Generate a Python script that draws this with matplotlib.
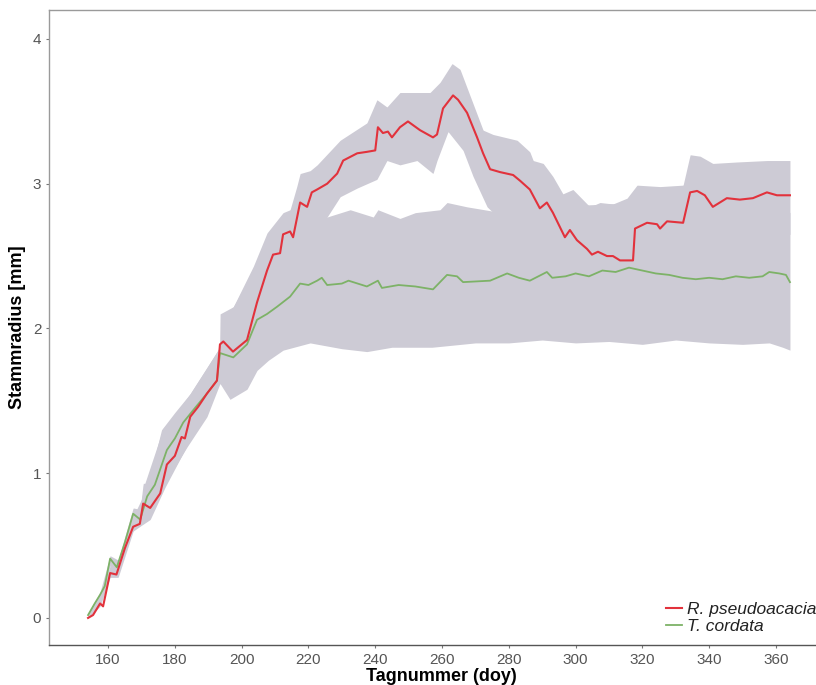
import matplotlib
matplotlib.use("Agg")
import matplotlib.pyplot as plt
import numpy as np

plt.rcParams['font.family'] = ['Liberation Sans', 'DejaVu Sans']

# Mean stem radius change, Robinia pseudoacacia
red_day = [154, 155.5, 157.6, 158.5, 160.6, 162.5, 165, 167.5, 169.5, 170.5, 172.6, 175.6,
           177.6, 180, 182, 183, 184.6, 187, 189.6, 192.6, 193.5, 194.5, 197.4, 201.6,
           204.6, 207.6, 209.4, 211.5, 212.4, 214.5, 215.4, 217.5, 219.6, 221, 222.6, 224.1,
           225.6, 228.6, 230.4, 234.6, 237.5, 240, 240.8, 242.3, 243.8, 245, 247.4, 249.8,
           253.4, 257.3, 258.5, 260.3, 263.3, 264.8, 267.5, 270.5, 272.3, 274.4, 277.4,
           281.3, 283.4, 286.3, 289.3, 291.4, 293.2, 296.8, 298.3, 300.4, 303.4, 304.9,
           306.7, 309.4, 311.2, 313.3, 317.2, 317.8, 321.4, 324.4, 325.3, 327.4, 332.2,
           334.3, 336.4, 338.7, 341.1, 343.2, 345.3, 349.2, 353.1, 357.3, 360.3, 364.2]
red_val = [0.00, 0.02, 0.10, 0.08, 0.31, 0.30, 0.48, 0.63, 0.65, 0.79, 0.76, 0.86,
           1.06, 1.12, 1.25, 1.24, 1.39, 1.46, 1.55, 1.64, 1.89, 1.91, 1.84, 1.92,
           2.18, 2.40, 2.51, 2.52, 2.65, 2.67, 2.63, 2.87, 2.84, 2.94, 2.96, 2.98,
           3.00, 3.07, 3.16, 3.21, 3.22, 3.23, 3.39, 3.35, 3.36, 3.32, 3.39, 3.43,
           3.37, 3.32, 3.34, 3.52, 3.61, 3.58, 3.49, 3.32, 3.21, 3.10, 3.08,
           3.06, 3.02, 2.96, 2.83, 2.87, 2.80, 2.63, 2.68, 2.61, 2.55, 2.51,
           2.53, 2.50, 2.50, 2.47, 2.47, 2.69, 2.73, 2.72, 2.69, 2.74, 2.73,
           2.94, 2.95, 2.92, 2.84, 2.87, 2.90, 2.89, 2.90, 2.94, 2.92, 2.92]

# Mean stem radius change, Tilia cordata
green_day = [154, 156, 157.6, 159, 160.6, 162.6, 165, 167.5, 169.6, 171.7, 174, 177.6,
             180, 182.5, 186, 189.6, 192.6, 193.5, 197.5, 201.6, 204.6, 207.6, 210.6,
             214.5, 217.5, 220, 222.6, 224, 225.6, 230, 232, 237.5, 240.8, 242, 247,
             252, 257.3, 261.5, 264.5, 266.3, 274.4, 279.5, 283, 286.3, 291.4, 293,
             297, 300, 304, 308, 312, 316, 320, 324, 328, 332, 336, 340, 344, 348,
             352, 356, 358, 361, 363, 364.2]
green_val = [0.02, 0.10, 0.16, 0.22, 0.41, 0.35, 0.52, 0.72, 0.68, 0.84, 0.92, 1.16,
             1.24, 1.35, 1.45, 1.55, 1.64, 1.83, 1.80, 1.89, 2.06, 2.10, 2.15,
             2.22, 2.31, 2.30, 2.33, 2.35, 2.30, 2.31, 2.33, 2.29, 2.33, 2.28, 2.30,
             2.29, 2.27, 2.37, 2.36, 2.32, 2.33, 2.38, 2.35, 2.33, 2.39, 2.35,
             2.36, 2.38, 2.36, 2.40, 2.39, 2.42, 2.40, 2.38, 2.37, 2.35, 2.34, 2.35, 2.34, 2.36,
             2.35, 2.36, 2.39, 2.38, 2.37, 2.32]

# Spread band, Robinia pseudoacacia
red_hi_day = [154, 157.6, 160.6, 163, 167.5, 170, 171, 176.5, 180.6, 184.6, 189.6, 193.4, 193.5,
              197.5, 203.5, 207.6, 212.4, 214.5, 216.5, 217.5, 220.5, 222.6, 229.5, 237.5,
              240.5, 243.5, 247.4, 256.4, 259.4, 263, 265.4, 272.3, 275.3, 282.5, 286.3,
              287.3, 290.3, 293.2, 296.2, 299.2, 304.3, 307.3, 311.2, 315.4, 318.4, 325.3,
              332.2, 334.3, 337.3, 341.1, 348.3, 357.3, 364.2]
red_hi = [0.03, 0.14, 0.36, 0.36, 0.70, 0.82, 0.93, 1.31, 1.42, 1.55, 1.73, 1.87, 2.10,
          2.15, 2.43, 2.66, 2.80, 2.82, 2.98, 3.07, 3.09, 3.13, 3.30, 3.42,
          3.58, 3.53, 3.63, 3.63, 3.70, 3.83, 3.79, 3.37, 3.34, 3.30, 3.22,
          3.16, 3.14, 3.05, 2.93, 2.96, 2.84, 2.87, 2.86, 2.90, 2.99, 2.98,
          2.99, 3.20, 3.19, 3.14, 3.15, 3.16, 3.16]
red_lo_day = [154, 157.6, 160.6, 163, 167.5, 170, 172.6, 177, 185, 193.5, 200, 210, 217,
              222, 225.6, 229.5, 234.6, 240.5, 243.5, 247.4, 252.5, 257.3, 258.5, 261.8,
              266.3, 269.3, 273.5, 275.3, 280, 286, 295, 305, 317, 318, 333, 334, 364.2]
red_lo = [0.00, 0.08, 0.28, 0.28, 0.60, 0.64, 0.68, 0.90, 1.25, 1.65, 1.80, 2.20, 2.50,
          2.65, 2.77, 2.91, 2.97, 3.03, 3.16, 3.13, 3.16, 3.07, 3.16, 3.36,
          3.23, 3.05, 2.84, 2.80, 2.75, 2.70, 2.30, 2.15, 2.05, 2.35, 2.35, 2.65, 2.65]

# Spread band, Tilia cordata
green_hi_day = [154, 157.6, 160.6, 163, 167.5, 169.6, 170.5, 172, 176, 180, 184.6, 189.6,
                193.5, 195, 200, 205, 210, 215, 220, 225.6, 232.5, 239.4, 240.8, 247.4,
                252, 259.4, 261.5, 267.5, 275.3, 280, 290, 300, 310, 320, 330, 340, 350,
                360, 364.2]
green_hi = [0.03, 0.18, 0.43, 0.40, 0.76, 0.75, 0.93, 0.93, 1.30, 1.42, 1.55, 1.73,
            1.87, 2.05, 2.25, 2.45, 2.60, 2.70, 2.74, 2.77, 2.82, 2.77, 2.82, 2.76,
            2.80, 2.82, 2.87, 2.84, 2.81, 2.83, 2.85, 2.85, 2.86, 2.87, 2.83, 2.82, 2.83,
            2.85, 2.80]
green_lo_day = [154, 157.6, 160.6, 163, 167.5, 169.6, 172, 177.6, 183.6, 189.6, 193.5,
                196.5, 201.6, 204.6, 208, 212.4, 220.5, 230, 237.5, 245, 257, 270, 280,
                290, 300, 310, 320, 330, 340, 350, 358, 362, 364.2]
green_lo = [0.00, 0.12, 0.36, 0.32, 0.66, 0.64, 0.68, 0.95, 1.18, 1.39, 1.62,
            1.51, 1.58, 1.71, 1.78, 1.85, 1.90, 1.86, 1.84, 1.87, 1.87, 1.90, 1.90,
            1.92, 1.90, 1.91, 1.89, 1.92, 1.90, 1.89, 1.90, 1.87, 1.85]

x_ticks = [160, 180, 200, 220, 240, 260, 280, 300, 320, 340, 360]
y_ticks = [0, 1, 2, 3, 4]
series_names = ["R. pseudoacacia", "T. cordata"]


def on_grid(days, vals, grid):
    return np.interp(grid, days, vals)


band_color = "#CDCBD5"
red_color = "#E2323C"
green_color = "#7DB267"

fig = plt.figure(figsize=(8.16, 6.85), dpi=100)
ax = fig.add_axes([49 / 816, 40 / 685, 1 - 49 / 816, 635 / 685])

grid = np.linspace(154, 364.2, 1500)
ax.fill_between(grid, on_grid(red_lo_day, red_lo, grid), on_grid(red_hi_day, red_hi, grid),
                color=band_color, lw=0, zorder=1)
ax.fill_between(grid, on_grid(green_lo_day, green_lo, grid), on_grid(green_hi_day, green_hi, grid),
                color=band_color, lw=0, zorder=1)

ax.plot(red_day, red_val, color=red_color, lw=1.5, label=series_names[0], zorder=3)
ax.plot(green_day, green_val, color=green_color, lw=1.3, label=series_names[1], zorder=2)

ax.set_xlim(142.3, 372)
ax.set_ylim(-0.187, 4.2)
ax.set_xticks(x_ticks)
ax.set_yticks(y_ticks)
ax.tick_params(axis='both', length=2.5, width=0.8, color="#777777", labelcolor="#555555",
               labelsize=11, pad=3)

for side in ("left", "top"):
    ax.spines[side].set_color("#9a9a9a")
    ax.spines[side].set_linewidth(1.0)
ax.spines["bottom"].set_color("#555555")
ax.spines["bottom"].set_linewidth(1.0)
ax.spines["right"].set_visible(False)

ax.set_xlabel("Tagnummer (doy)", fontsize=13, fontweight="bold")
ax.xaxis.set_label_coords(0.511, -0.036, transform=ax.transAxes)
ax.xaxis.label.set_verticalalignment("top")
ax.set_ylabel("Stammradius [mm]", fontsize=13, fontweight="bold", labelpad=5)

leg = ax.legend(loc="lower right", bbox_to_anchor=(1.0, 0.017), frameon=False,
                handlelength=0.95, handletextpad=0.25, labelspacing=0.1, borderpad=0.0,
                borderaxespad=0.0, prop={"style": "italic", "size": 12.5})
for t in leg.get_texts():
    t.set_color("#222222")

fig.savefig("out.png", dpi=100, facecolor="white")
